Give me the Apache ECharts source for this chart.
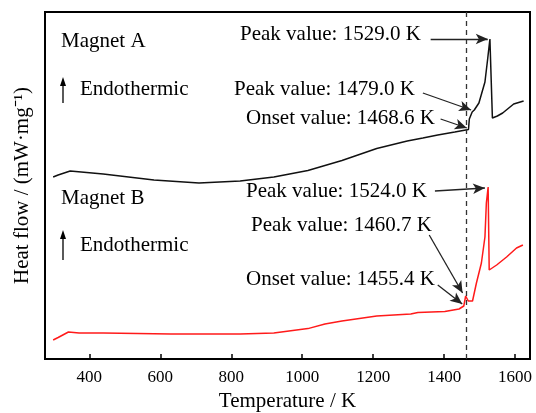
<!DOCTYPE html>
<html>
<head>
<meta charset="utf-8">
<script src="https://cdn.jsdelivr.net/npm/echarts@6/dist/echarts.min.js"></script>
<style>
  html, body { margin: 0; padding: 0; background: #fff; }
  #main { width: 536px; height: 413px; }
</style>
</head>
<body>
<div id="main"></div>
<script>
// temperature (K) / heat flow (arbitrary units, no scale on the figure)
const tempA = [298, 312, 346, 439, 582, 709, 825, 920, 1016, 1112, 1210, 1296, 1340, 1382, 1430, 1468.6, 1471, 1479, 1485, 1490, 1498, 1515, 1523, 1529, 1536, 1550, 1565, 1596, 1624]
const flowA = [182, 184, 188, 185, 179, 176, 178, 182, 188.5, 198.5, 210.5, 218, 221, 224, 227, 229.5, 240, 247, 249, 251, 256, 277, 301, 320, 241, 243, 246, 255, 258]

const tempB = [298, 312, 341, 371, 439, 630, 825, 920, 1016, 1064, 1112, 1210, 1306, 1326, 1402, 1442, 1455.4, 1460.7, 1468, 1480, 1491, 1505, 1515, 1519, 1524, 1527, 1531, 1548, 1576, 1604, 1622]
const flowB = [19, 21.5, 27, 26, 26, 25, 25, 26, 30.4, 35, 38, 43, 45, 46.5, 47.5, 50, 53, 63, 58, 58, 76, 96, 122, 156, 172, 89, 89, 94, 102, 111, 114]

const xTicks = [400, 600, 800, 1000, 1200, 1400, 1600]
const dashedAt = 1461

// annotation arrows: [from, to] in data coords
const arrowsA = [
  [[1362, 320], [1523, 320]],
  [[1340, 266], [1476, 249]],
  [[1390, 240], [1464, 231]]
]
const arrowsB = [
  [[1374, 168], [1515, 171]],
  [[1358, 124], [1452, 66]],
  [[1382, 74], [1451, 55]]
]

const serif = '"Liberation Serif", "Times New Roman", serif'

function arrowLines (list) {
  return list.map(a => [{ coord: a[0] }, { coord: a[1] }])
}

function label (text, x, y) {
  return {
    type: 'text', x: x, y: y,
    style: { text: text, font: '21px ' + serif, fill: '#000', verticalAlign: 'middle' }
  }
}

function upArrow (x, y1, y2) {
  return [
    { type: 'line', shape: { x1: x, y1: y1, x2: x, y2: y2 + 7 }, style: { stroke: '#000', lineWidth: 1.3 } },
    { type: 'polygon', shape: { points: [[x - 3, y2 + 9], [x + 3, y2 + 9], [x, y2]] }, style: { fill: '#000' } }
  ]
}

const myChart = echarts.init(document.getElementById('main'))

const option = {
  animation: false,
  grid: {
    left: 45, right: 6, top: 12, bottom: 54,
    outerBoundsMode: 'none',
    show: true, borderColor: '#000', borderWidth: 2
  },
  xAxis: {
    type: 'value',
    min: 275,
    max: 1642,
    name: 'Temperature / K',
    nameLocation: 'middle',
    nameGap: 32,
    nameTextStyle: { fontFamily: serif, fontSize: 21, color: '#000' },
    axisLine: { show: false },
    splitLine: { show: false },
    axisTick: { inside: true, length: 5, lineStyle: { color: '#000', width: 1.5 }, customValues: xTicks },
    axisLabel: { customValues: xTicks, formatter: v => String(v), fontFamily: serif, fontSize: 17, color: '#000', margin: 10 }
  },
  yAxis: {
    type: 'value',
    min: 0,
    max: 347,
    name: 'Heat flow / (mW·mg⁻¹)',
    nameLocation: 'middle',
    nameRotate: 90,
    nameGap: 12,
    nameTextStyle: { fontFamily: serif, fontSize: 21, color: '#000' },
    axisLine: { show: false },
    axisTick: { show: false },
    axisLabel: { show: false },
    splitLine: { show: false }
  },
  series: [
    {
      name: 'Magnet A',
      type: 'line',
      data: tempA.map((t, i) => [t, flowA[i]]),
      showSymbol: false,
      lineStyle: { color: '#111', width: 1.5 },
      markLine: {
        silent: true,
        symbol: 'none',
        label: { show: false },
        lineStyle: { type: [5, 4], color: '#333', width: 1.3 },
        data: [{ xAxis: dashedAt }]
      }
    },
    {
      name: 'Magnet B',
      type: 'line',
      data: tempB.map((t, i) => [t, flowB[i]]),
      showSymbol: false,
      lineStyle: { color: '#ff1a1a', width: 1.5 },
      markLine: {
        silent: true,
        symbol: ['none', 'arrow'],
        symbolSize: [8, 12],
        label: { show: false },
        lineStyle: { color: '#222', width: 1.3, type: 'solid' },
        data: arrowLines(arrowsA.concat(arrowsB))
      }
    }
  ],
  graphic: [
    label('Magnet A', 61, 41),
    label('Endothermic', 80, 89),
    label('Peak value: 1529.0 K', 240, 34),
    label('Peak value: 1479.0 K', 234, 89),
    label('Onset value: 1468.6 K', 246, 118),
    label('Magnet B', 61, 198),
    label('Endothermic', 80, 245),
    label('Peak value: 1524.0 K', 246, 191),
    label('Peak value: 1460.7 K', 251, 225),
    label('Onset value: 1455.4 K', 246, 279)
  ].concat(upArrow(63, 103, 77), upArrow(63, 260, 230))
}

myChart.setOption(option)
</script>
</body>
</html>
